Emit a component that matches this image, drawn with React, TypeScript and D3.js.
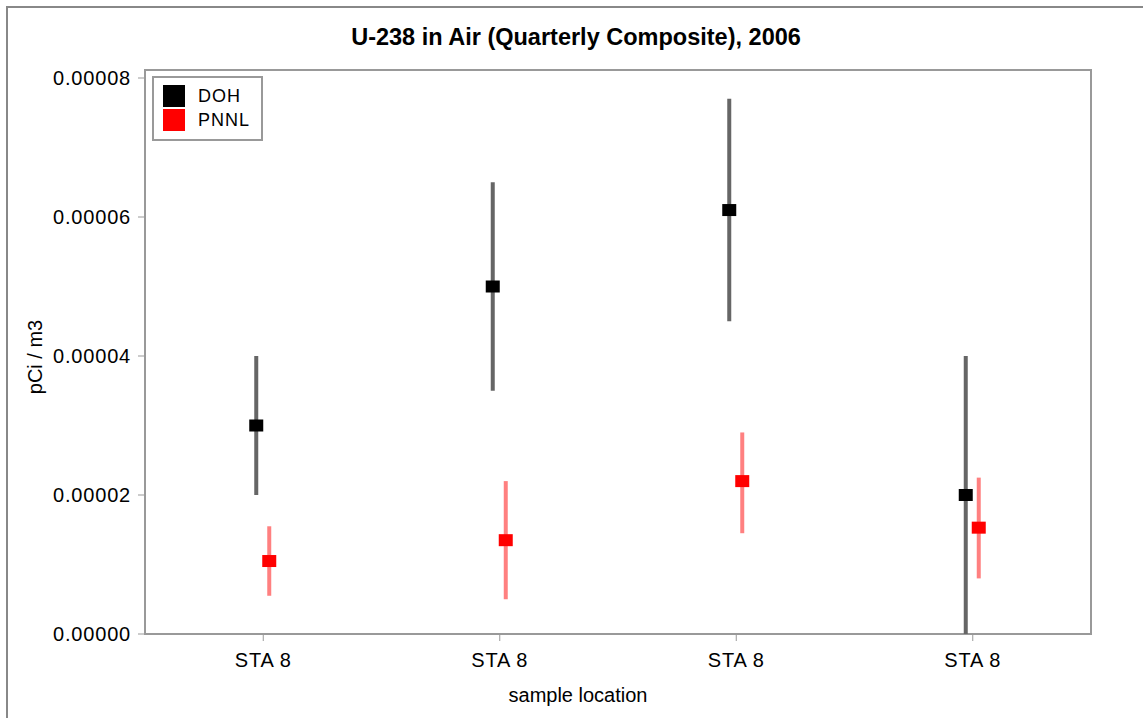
import React from "react";
import * as d3 from "d3";

const categories = ["STA 8", "STA 8", "STA 8", "STA 8"];
const seriesNames = ["DOH", "PNNL"];
const seriesColors = ["#000000", "#ff0000"];
const barColors = ["#666666", "#ff8080"];

const dohValues = [3.0e-5, 5.0e-5, 6.1e-5, 2.0e-5];
const dohLow = [2.0e-5, 3.5e-5, 4.5e-5, 0];
const dohHigh = [4.0e-5, 6.5e-5, 7.7e-5, 4.0e-5];

const pnnlValues = [1.05e-5, 1.35e-5, 2.2e-5, 1.53e-5];
const pnnlLow = [0.55e-5, 0.5e-5, 1.45e-5, 0.8e-5];
const pnnlHigh = [1.55e-5, 2.2e-5, 2.9e-5, 2.25e-5];

const yTicks = [0, 2e-5, 4e-5, 6e-5, 8e-5];

const W = 1143;
const H = 718;
const left = 145;
const right = 1091;
const top = 70;
const bottom = 634;
const font = "'Liberation Sans', Arial, sans-serif";

export default function App() {
  const x = d3
    .scaleBand<number>()
    .domain(categories.map((_, i) => i))
    .range([left, right])
    .paddingInner(0)
    .paddingOuter(0);
  const y = d3.scaleLinear().domain([0, 8e-5]).range([bottom - 0, 78]);

  const series = [
    { name: "DOH", values: dohValues, low: dohLow, high: dohHigh, offset: -7 },
    { name: "PNNL", values: pnnlValues, low: pnnlLow, high: pnnlHigh, offset: 6 },
  ];

  const fmt = d3.format(".5f");

  return (
    <svg
      width={W}
      height={H}
      style={{ position: "absolute", left: 0, top: 0, background: "#fff" }}
    >
      <rect x={0} y={0} width={W} height={H} fill="#fff" />
      <rect x={7} y={7} width={W + 20} height={H + 20} fill="none" stroke="#888" strokeWidth={2} />
      <text x={576} y={45} textAnchor="middle" fontFamily={font} fontWeight="bold" fontSize={23.5} fill="#000">
        U-238 in Air (Quarterly Composite), 2006
      </text>

      {/* plot frame */}
      <rect x={left} y={top} width={right - left} height={bottom - top} fill="#fff" stroke="#999" strokeWidth={2} />

      {/* y ticks */}
      {yTicks.map((t, i) => (
        <g key={"yt" + i}>
          <line x1={left - 7} x2={left} y1={y(t)} y2={y(t)} stroke="#999" strokeWidth={1} />
          <text x={131} y={y(t)} dy="0.35em" textAnchor="end" fontFamily={font} fontSize={20} letterSpacing={0.8} fill="#000">
            {fmt(t)}
          </text>
        </g>
      ))}

      {/* x ticks */}
      {categories.map((c, i) => {
        const cx = (x(i) as number) + x.bandwidth() / 2;
        return (
          <g key={"xt" + i}>
            <line x1={cx} x2={cx} y1={bottom} y2={bottom + 7} stroke="#999" strokeWidth={1} />
            <text x={cx} y={667} textAnchor="middle" fontFamily={font} fontSize={20} letterSpacing={0.8} fill="#000">
              {c}
            </text>
          </g>
        );
      })}

      {/* error bars and markers */}
      {series.map((s, si) => (
        <g key={"s" + si}>
          {s.values.map((v, i) => {
            const cx = (x(i) as number) + x.bandwidth() / 2 + s.offset;
            return (
              <g key={i}>
                <line x1={cx} x2={cx} y1={y(s.low[i])} y2={y(s.high[i])} stroke={barColors[si]} strokeWidth={4} />
                <rect x={cx - 7} y={y(v) - 6} width={14} height={12} fill={seriesColors[si]} />
              </g>
            );
          })}
        </g>
      ))}

      {/* axis labels */}
      <text x={578} y={702} textAnchor="middle" fontFamily={font} fontSize={20} fill="#000">
        sample location
      </text>
      <text
        transform={`translate(42,357) rotate(-90)`}
        textAnchor="middle"
        fontFamily={font}
        fontSize={20}
        fill="#000"
      >
        pCi / m3
      </text>

      {/* legend */}
      <rect x={153} y={77} width={109} height={63} fill="#fff" stroke="#999" strokeWidth={2} />
      {seriesNames.map((n, i) => (
        <g key={"lg" + i}>
          <rect x={163} y={85 + i * 24} width={22} height={22} fill={seriesColors[i]} />
          <text x={198} y={96 + i * 24} dy="0.35em" fontFamily={font} fontSize={18} letterSpacing={1} fill="#000">
            {n}
          </text>
        </g>
      ))}
    </svg>
  );
}
